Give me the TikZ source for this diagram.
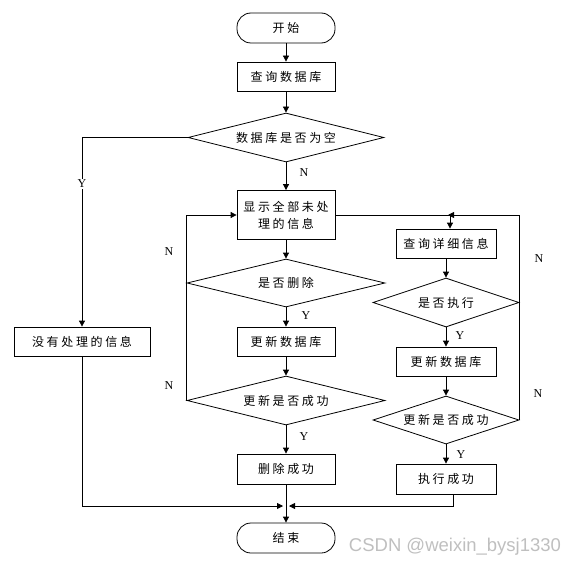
\documentclass[tikz,border=0pt]{standalone}
\usepackage{fontspec}
\setmainfont{Liberation Serif}
\newfontfamily\cjk[LetterSpace=22]{Noto Sans CJK SC}
\newfontfamily\wmfont{Liberation Sans}
\usetikzlibrary{shapes.geometric,arrows.meta}
\tikzset{
  base/.style={draw=black, line width=0.8pt, inner sep=0pt, font=\cjk\fontsize{12}{17}\selectfont},
  box/.style={base, rectangle, minimum width=98pt, minimum height=29pt},
  term/.style={base, rectangle, rounded corners=14pt, minimum width=98pt, minimum height=30pt},
  dec/.style={base, diamond, aspect=4},
  arr/.style={draw=black, line width=0.8pt, -{Triangle[length=6pt,width=6pt]}},
  ln/.style={draw=black, line width=0.8pt},
  lab/.style={font=\fontsize{12}{12}\selectfont, inner sep=1pt}
}
\begin{document}
\begin{tikzpicture}[x=1pt,y=-1pt]
\useasboundingbox (0,0) rectangle (580,567);
% main column
\node[term] (start) at (286,28) {开始};
\node[box] (q1) at (286,76.5) {查询数据库};
\node[dec, minimum width=196pt, minimum height=49pt] (d1) at (286,137.5) {数据库是否为空};
\node[box, minimum width=136pt] (none) at (82,341.5) {没有处理的信息};
\node[box, minimum height=49pt, align=center] (show) at (286,215) {显示全部未处\\理的信息};
\node[dec, minimum width=198pt, minimum height=48pt] (d2) at (286,283) {是否删除};
\node[box] (upd1) at (286,341.5) {更新数据库};
\node[dec, minimum width=198pt, minimum height=49pt] (d3) at (286,400.5) {更新是否成功};
\node[box, minimum height=30pt] (delok) at (286,469) {删除成功};
\node[term] (end) at (286,538) {结束};
% right column
\node[box, minimum width=100pt] (q2) at (446,243.5) {查询详细信息};
\node[dec, minimum width=146pt, minimum height=49pt] (d4) at (446,302.5) {是否执行};
\node[box, minimum width=100pt] (upd2) at (446,361.5) {更新数据库};
\node[dec, minimum width=146pt, minimum height=48pt] (d5) at (446,420) {更新是否成功};
\node[box, minimum width=100pt, minimum height=30pt] (exok) at (446,479) {执行成功};
% helper coordinates
\coordinate (merge) at (286,506);
\coordinate (j) at (450,215);
\coordinate (exb) at (453,494);
% connectors main
\draw[arr] (start) -- (q1);
\draw[arr] (q1) -- (d1);
\draw[arr] (d1) -- (show);
\draw[arr] (show) -- (d2);
\draw[arr] (d2) -- (upd1);
\draw[arr] (upd1) -- (d3);
\draw[arr] (d3) -- (delok);
\draw[arr] (delok) -- (end);
% Y branch
\draw[arr] (d1.west) -| (none.north);
\node[lab, fill=white] (ly1) at (82,184) {Y};
\draw[arr, shorten >=3pt] (none.south) |- (merge);
% left loops
\draw[ln] (d3.west) -- (d2.west);
\draw[arr] (d2.west) |- (show.west);
% right side
\draw[ln] (show.east) -- (j);
\draw[arr] (j) -- (j |- q2.north);
\draw[arr] (q2) -- (d4);
\draw[arr] (d4) -- (upd2);
\draw[arr] (upd2) -- (d5);
\draw[arr] (d5) -- (exok);
\draw[ln] (d5.east) -- (d4.east);
\draw[arr, shorten >=-2pt] (d4.east) |- (j);
\draw[arr, shorten >=3pt] (exb) |- (merge);
% labels
\node[lab] (n1) at (304,173) {N};
\node[lab] (y2) at (306,316) {Y};
\node[lab] (y3) at (304,437) {Y};
\node[lab] (n2) at (169,252) {N};
\node[lab] (n3) at (169,386) {N};
\node[lab] (y4) at (460,336) {Y};
\node[lab] (y5) at (461,455) {Y};
\node[lab] (n4) at (539,259) {N};
\node[lab] (n5) at (538,394) {N};
% watermark
\node[font=\wmfont\fontsize{18.5}{18.5}\selectfont, text=black!25, inner sep=0pt] (wm) at (455,547) {CSDN @weixin\_bysj1330};
\end{tikzpicture}
\end{document}
